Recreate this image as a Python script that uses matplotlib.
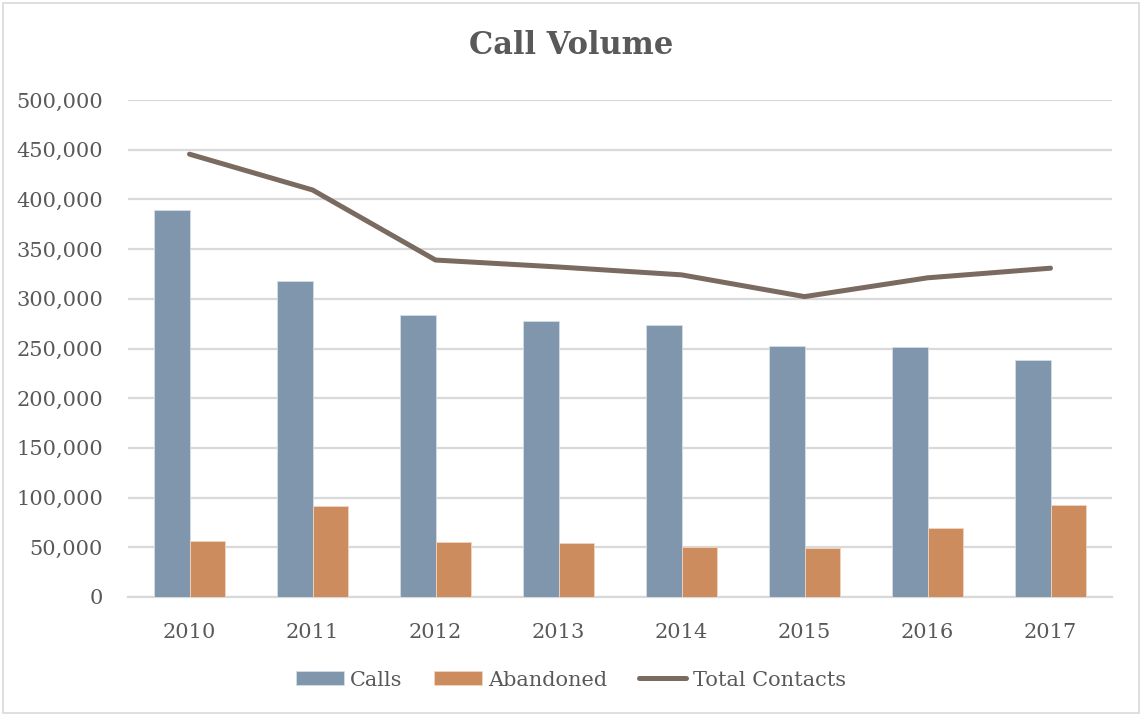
import matplotlib
matplotlib.use('Agg')
import matplotlib.pyplot as plt
import numpy as np
from matplotlib.patches import Rectangle
from matplotlib.ticker import FuncFormatter

years = ['2010', '2011', '2012', '2013', '2014', '2015', '2016', '2017']
calls = [389000, 318000, 283500, 277500, 273800, 252700, 251600, 238000]
abandoned = [56500, 91500, 55500, 54500, 50300, 49500, 69500, 92800]
total_contacts = [445500, 409500, 339000, 332000, 324100, 302200, 321100, 330800]

calls_color = '#7F96AD'
aband_color = '#CC8C5E'
line_color = '#7A6A5F'
text_color = '#595959'
grid_color = '#D9D9D9'

plt.rcParams['font.family'] = ['DejaVu Serif']

fig = plt.figure(figsize=(11.42, 7.16), dpi=100)
fig.patches.append(Rectangle((3 / 1142, 3 / 716), 1136 / 1142, 710 / 716,
                             transform=fig.transFigure, fill=False,
                             edgecolor=grid_color, linewidth=1.2))

ax = fig.add_axes([128 / 1142, 1 - 597 / 716, 984 / 1142, 497 / 716])

x = np.arange(len(years))
w = 0.285
b1 = ax.bar(x - w / 2, calls, w, color=calls_color, edgecolor='#D5DEE6', linewidth=0.6,
            label='Calls', zorder=3)
b2 = ax.bar(x + w / 2, abandoned, w, color=aband_color, edgecolor='#F0D5C0', linewidth=0.6,
            label='Abandoned', zorder=3)
l1, = ax.plot(x, total_contacts, color=line_color, linewidth=3.6, solid_capstyle='round',
              label='Total Contacts', zorder=4)

ax.set_xlim(-0.5, len(years) - 0.5)
ax.set_ylim(0, 500000)
ax.set_yticks(np.arange(0, 500001, 50000))
ax.yaxis.set_major_formatter(FuncFormatter(lambda v, p: f'{int(v):,}'))
ax.set_xticks(x)
ax.set_xticklabels(years)
ax.grid(axis='y', color=grid_color, linewidth=1.6, zorder=0)
for s in ['top', 'right', 'left']:
    ax.spines[s].set_visible(False)
ax.spines['bottom'].set_color(grid_color)
ax.spines['bottom'].set_linewidth(1.6)
ax.tick_params(axis='both', length=0, labelsize=15, labelcolor=text_color)
ax.tick_params(axis='y', pad=18)
ax.tick_params(axis='x', pad=19)

fig.text(0.5, 1 - 46 / 716, 'Call Volume', ha='center', va='center',
         fontsize=22, fontweight='bold', color=text_color)

fig.legend(handles=[b1, b2, l1], loc='center', bbox_to_anchor=(0.5, 1 - 680 / 716),
           ncol=3, frameon=False, fontsize=15, labelcolor=text_color,
           handlelength=2.3, handleheight=0.65, handletextpad=0.3, columnspacing=1.5)

fig.savefig('out.png', dpi=100)
